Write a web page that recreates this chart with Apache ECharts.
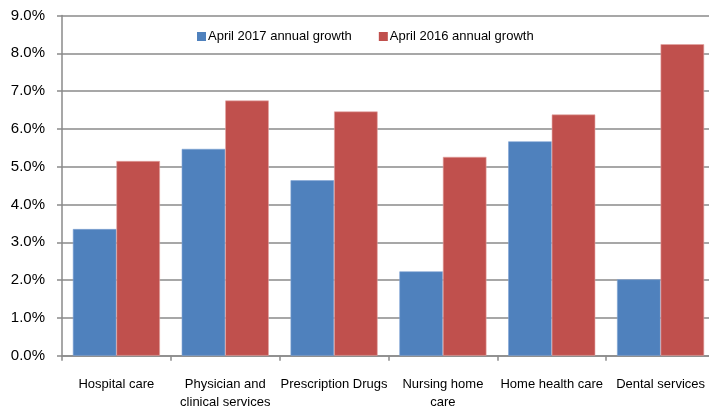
<!DOCTYPE html>
<html>
<head>
<meta charset="utf-8">
<script src="https://cdn.jsdelivr.net/npm/echarts@6/dist/echarts.min.js"></script>
<style>
html,body{margin:0;padding:0;background:#fff;}
#chart{width:709px;height:406px;}
</style>
</head>
<body>
<div id="chart"></div>
<script>
var categories = ['Hospital care', 'Physician and\nclinical services', 'Prescription Drugs', 'Nursing home\ncare', 'Home health care', 'Dental services'];
var growth2017 = [3.35, 5.47, 4.64, 2.23, 5.67, 2.02];
var growth2016 = [5.15, 6.75, 6.46, 5.26, 6.38, 8.24];
var seriesNames = ['April 2017 annual growth', 'April 2016 annual growth'];
var yTicks = { min: 0, max: 9, interval: 1 };

var chart = echarts.init(document.getElementById('chart'), null, { renderer: 'canvas' });
var font = 'Arial, "Liberation Sans", sans-serif';
var gridColor = '#8a8a8a';
chart.setOption({
  animation: false,
  textStyle: { fontFamily: font },
  legend: {
    left: 192,
    top: 25,
    itemWidth: 9,
    itemHeight: 9,
    itemGap: 27,
    icon: 'rect',
    itemStyle: { borderWidth: 0 },
    textStyle: { fontSize: 13, color: '#000', fontFamily: font, padding: [0, 0, 0, -3] },
    data: seriesNames
  },
  grid: { left: 62, right: -6, top: 15.5, bottom: 50.3, containLabel: false, outerBoundsMode: 'none' },
  xAxis: {
    type: 'category',
    data: categories,
    axisLine: { show: true, lineStyle: { color: gridColor, width: 1.5 } },
    axisTick: { show: true, length: 5, lineStyle: { color: gridColor, width: 1.5 } },
    axisLabel: { fontSize: 13, color: '#000', margin: 20, lineHeight: 18, interval: 0, fontFamily: font },
    splitLine: { show: false }
  },
  yAxis: {
    type: 'value',
    min: yTicks.min,
    max: yTicks.max,
    interval: yTicks.interval,
    axisLine: { show: true, lineStyle: { color: gridColor, width: 1.5 } },
    axisTick: { show: true, length: 5, lineStyle: { color: gridColor, width: 1.5 } },
    axisLabel: {
      fontSize: 15, color: '#000', margin: 17, fontFamily: font,
      formatter: function (v) { return v.toFixed(1) + '%'; }
    },
    splitLine: { show: true, lineStyle: { color: gridColor, width: 1.5 } }
  },
  series: [
    {
      name: seriesNames[0], type: 'bar', data: growth2017,
      barGap: '0%', barCategoryGap: '20%',
      itemStyle: { color: '#4F81BD', borderColor: '#7fa3d4', borderWidth: 0.6 }
    },
    {
      name: seriesNames[1], type: 'bar', data: growth2016,
      barGap: '0%', barCategoryGap: '20%',
      itemStyle: { color: '#C0504D', borderColor: '#e2a3a1', borderWidth: 0.6 }
    }
  ]
});
</script>
</body>
</html>
